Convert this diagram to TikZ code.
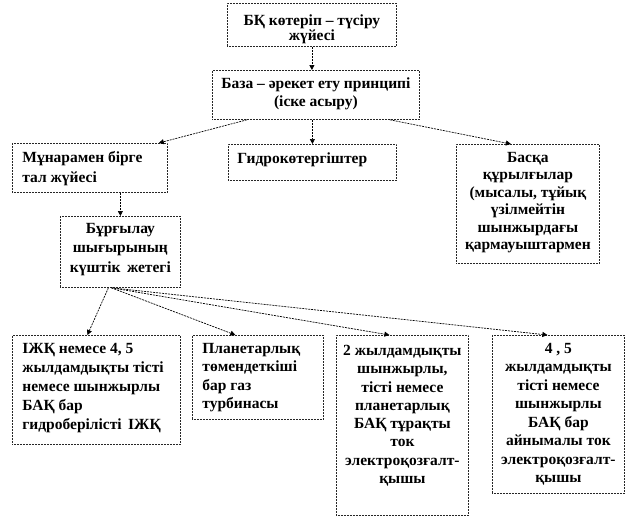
\documentclass[tikz,border=0pt]{standalone}
\usepackage{fontspec}
\setmainfont{Liberation Serif}
\usetikzlibrary{arrows.meta,calc}
\tikzset{
  kbox/.style={draw=black!85, line width=0.8pt, dash pattern=on 0.8pt off 0.7pt,
    inner xsep=4pt, inner ysep=0pt, anchor=north west, fill=white},
  conn/.style={draw=black, line width=0.7pt, dash pattern=on 2pt off 1pt,
    -{Triangle[length=5pt,width=5pt]}}
}
\newcommand{\kbox}[9]{%
  \pgfmathsetmacro{\kh}{#5-#3}%
  \pgfmathsetmacro{\kpw}{#4-#2-8}%
  \node[kbox] (#1) at (#2,#3) {\parbox[t][\kh pt][t]{\kpw pt}{\fontsize{15.5}{#6}\selectfont\bfseries #8\rule{0pt}{#7pt}#9\par}};}
\begin{document}
\begin{tikzpicture}[x=1pt,y=-1pt]
\fill[white] (0,0) rectangle (636,519);
\useasboundingbox (0,0) rectangle (636,519);

\kbox{b1}{227}{3}{396}{46}{15}{22}{\centering}{БҚ көтеріп – түсіру\\жүйесі}
\kbox{b2}{212}{70}{419}{119}{18}{18}{\centering}{База – әрекет ету принципі\\(іске асыру)}
\kbox{b3}{12}{143}{167}{192}{20}{19}{\raggedright\leftskip=6pt}{Мұнарамен бірге\\тал жүйесі}
\kbox{b4}{228}{144}{396}{180}{18}{19}{\raggedright\leftskip=5pt}{Гидрокөтергіштер}
\kbox{b5}{456}{144}{599}{263}{17.5}{18}{\centering}{Басқа\\құрылғылар\\(мысалы, тұйық\\үзілмейтін\\шынжырдағы\\қармауыштармен}
\kbox{b6}{60}{216}{180}{287}{19.5}{17}{\centering}{Бұрғылау\\шығырының\\күштік\, жетегі}
\kbox{b7}{12}{335}{180}{444}{19}{18}{\raggedright\leftskip=6pt}{ІЖҚ немесе 4, 5\\жылдамдықты тісті\\немесе шынжырлы\\БАҚ бар\\гидроберілісті\, ІЖҚ}
\kbox{b8}{192}{335}{323}{419}{18.3}{18}{\raggedright\leftskip=6pt}{Планетарлық\\төмендеткіші\\бар газ\\турбинасы}
\kbox{b9}{336}{335}{468}{515}{18.3}{20}{\centering}{2 жылдамдықты\\шынжырлы,\\тісті немесе\\планетарлық\\БАҚ тұрақты\\ток\\электроқозғалт-\\қышы}
\kbox{b10}{492}{335}{624}{493}{18.5}{18}{\centering}{4 , 5\\жылдамдықты\\тісті немесе\\шынжырлы\\БАҚ бар\\айнымалы ток\\электроқозғалт-\\қышы}

\draw[conn] (b1.south) -- (b1.south |- b2.north);
\draw[conn] ($(b2.south west)+(35,0)$) -- ($(b3.north east)+(-9,0)$);
\draw[conn] (b2.south -| b4.north) -- (b4.north);
\draw[conn] ($(b2.south east)+(-30,0)$) -- ($(b5.north)+(-17,0)$);
\draw[conn] (b3.south -| b6.north) -- (b6.north);
\draw[conn] ($(b6.south)+(-12,0)$) -- ($(b7.north)+(-9,0)$);
\draw[conn] ($(b6.south)+(-9,0)$) -- ($(b8.north)+(-22.5,0)$);
\draw[conn] ($(b6.south)+(-9,0)$) -- ($(b9.north)+(-13,0)$);
\draw[conn] ($(b6.south)+(-9,0)$) -- ($(b10.north)+(-11,0)$);
\end{tikzpicture}
\end{document}
